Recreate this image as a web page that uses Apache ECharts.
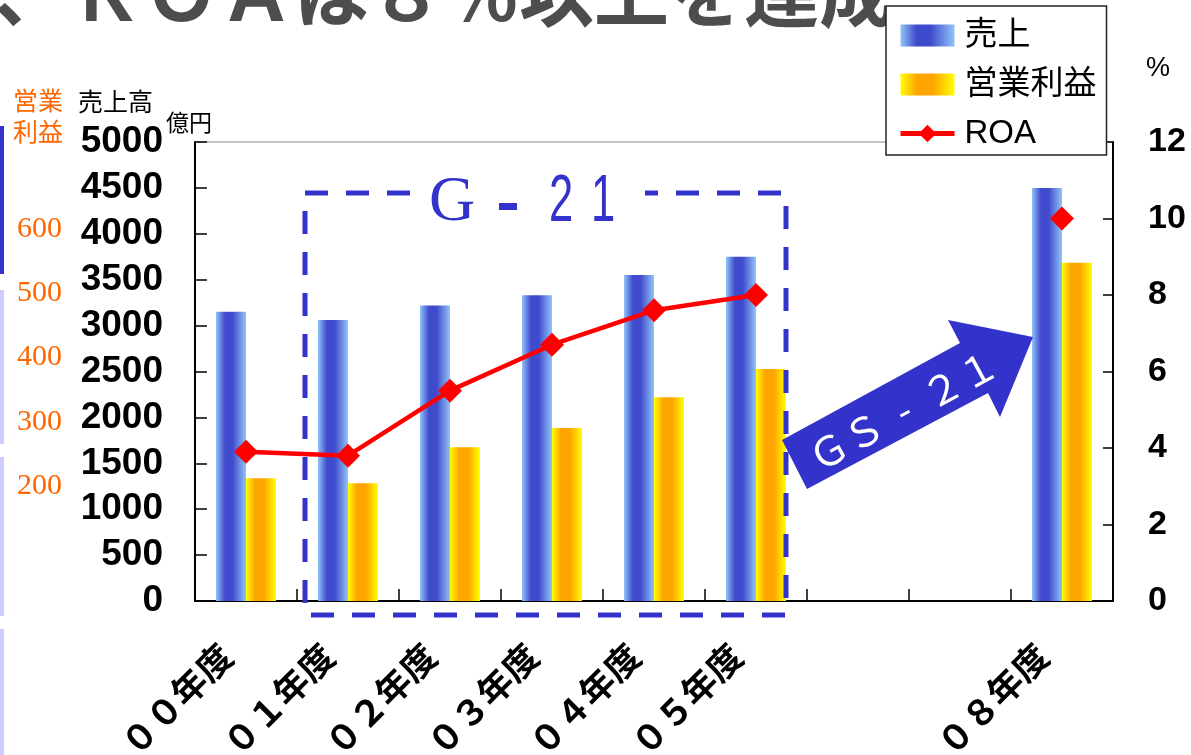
<!DOCTYPE html>
<html>
<head>
<meta charset="utf-8">
<script src="https://cdn.jsdelivr.net/npm/echarts@6/dist/echarts.min.js"></script>
<style>
  html, body { margin: 0; padding: 0; background: #fff; }
  #chart { width: 1191px; height: 755px; }
</style>
</head>
<body>
<div id="chart"></div>
<script>
// Fiscal years (06 and 07 have no figures)
const categories = ['００年度', '０１年度', '０２年度', '０３年度', '０４年度', '０５年度', '０６年度', '０７年度', '０８年度'];
// Net sales, 億円
const sales = [3150, 3060, 3220, 3330, 3550, 3750, null, null, 4500];
// Operating profit, 億円
const operatingProfit = [212, 204, 260, 290, 338, 382, null, null, 547];
// ROA, %
const roa = [3.9, 3.8, 5.5, 6.7, 7.6, 8.0, null, null, 10.0];
// Labels shown on the operating-profit scale
const profitTicks = [200, 300, 400, 500, 600];

const JP = "'Noto Sans CJK JP', sans-serif";
const NUM = "'Liberation Sans', Arial, sans-serif";
const ORANGE = '#ff6600';
const PLAN_BLUE = '#3333cc';

const salesFill = new echarts.graphic.LinearGradient(0, 0, 1, 0, [
  { offset: 0, color: '#90c4f8' },
  { offset: 0.3, color: '#3f4acc' },
  { offset: 0.55, color: '#3f4acc' },
  { offset: 1, color: '#90c4f8' }
]);
const profitFill = new echarts.graphic.LinearGradient(0, 0, 1, 0, [
  { offset: 0, color: '#ffff00' },
  { offset: 0.3, color: '#ffa500' },
  { offset: 0.6, color: '#ffa500' },
  { offset: 1, color: '#ffff00' }
]);

const chart = echarts.init(document.getElementById('chart'), null, { renderer: 'canvas' });

const dash = [23, 18];

chart.setOption({
  animation: false,
  backgroundColor: '#fff',
  grid: {
    left: 195, right: 78, top: 142, bottom: 154,
    show: true, borderColor: '#8a8a8a', borderWidth: 1,
    containLabel: false,
    outerBoundsMode: 'none'
  },
  legend: {
    orient: 'vertical',
    left: 886, top: 6,
    padding: [13, 10, 5, 12],
    itemGap: 16,
    itemWidth: 54, itemHeight: 22,
    backgroundColor: '#fff',
    borderColor: '#222', borderWidth: 1.5,
    selectedMode: false,
    textStyle: { fontSize: 33, lineHeight: 32, color: '#000', fontFamily: "'Liberation Sans', 'Noto Sans CJK JP', sans-serif", padding: [0, 0, 0, 5] },
    data: [
      { name: '売上', icon: 'rect' },
      { name: '営業利益', icon: 'rect' },
      { name: 'ROA', lineStyle: { width: 5 } }
    ]
  },
  xAxis: {
    type: 'category',
    data: categories,
    boundaryGap: true,
    axisLine: { lineStyle: { color: '#000', width: 2 } },
    axisTick: { show: true, inside: true, length: 12, lineStyle: { color: '#000', width: 1.5 } },
    axisLabel: {
      interval: 0,
      rotate: 45,
      margin: 29,
      padding: [0, 28, 0, 0],
      fontSize: 35,
      fontWeight: 'bold',
      fontFamily: JP,
      color: '#000',
      formatter: (v, i) => (sales[i] == null ? '' : v)
    },
    splitLine: { show: false }
  },
  yAxis: [
    {
      type: 'value', min: 0, max: 5000, interval: 500,
      position: 'left',
      axisLine: { show: true, lineStyle: { color: '#000', width: 2 } },
      axisTick: { show: true, inside: true, length: 12, lineStyle: { color: '#000', width: 1.5 } },
      axisLabel: { margin: 32, fontSize: 37, fontWeight: 'bold', fontFamily: NUM, color: '#000', formatter: v => String(v) },
      splitLine: { show: false }
    },
    {
      type: 'value', min: 0, max: 12, interval: 2,
      position: 'right',
      axisLine: { show: true, lineStyle: { color: '#000', width: 2 } },
      axisTick: { show: true, inside: true, length: 10, lineStyle: { color: '#000', width: 1.5 } },
      axisLabel: { margin: 35, fontSize: 34, fontWeight: 'bold', fontFamily: NUM, color: '#000' },
      splitLine: { show: false }
    },
    {
      // operating-profit scale, its zero sits just below the baseline
      type: 'value', min: 21, max: 735,
      position: 'left', offset: 125,
      axisLine: { show: false },
      axisTick: { show: false },
      axisLabel: { customValues: profitTicks, margin: 8, fontSize: 30, fontFamily: "'Liberation Serif', 'Times New Roman', serif", color: ORANGE },
      splitLine: { show: false }
    }
  ],
  series: [
    {
      name: '売上', type: 'bar', yAxisIndex: 0,
      data: sales, barWidth: 30, barGap: '0%',
      itemStyle: { color: salesFill }, clip: true
    },
    {
      name: '営業利益', type: 'bar', yAxisIndex: 2,
      data: operatingProfit, barWidth: 30,
      itemStyle: { color: profitFill }, clip: true
    },
    {
      name: 'ROA', type: 'line', yAxisIndex: 1,
      data: roa, connectNulls: false,
      symbol: 'diamond', symbolSize: 24, showSymbol: true,
      lineStyle: { color: '#ff0000', width: 4.5 },
      itemStyle: { color: '#ff0000' },
      z: 5
    }
  ],
  graphic: [
    // headline (runs under the legend box)
    { type: 'text', x: -6, y: -8, z: 0, style: { text: '、ＲＯＡは８％以上を達成', font: 'bold 75px ' + JP, fill: '#4d4d4d', align: 'left', verticalAlign: 'middle' } },
    // slide edge stripes
    { type: 'rect', shape: { x: 0, y: 126, width: 4, height: 148 }, style: { fill: PLAN_BLUE } },
    { type: 'rect', shape: { x: 0, y: 290, width: 4, height: 154 }, style: { fill: '#ccccff' } },
    { type: 'rect', shape: { x: 0, y: 457, width: 4, height: 159 }, style: { fill: '#ccccff' } },
    { type: 'rect', shape: { x: 0, y: 629, width: 4, height: 126 }, style: { fill: '#ccccff' } },
    // axis headings
    { type: 'text', x: 13, y: 100, style: { text: '営業', font: '25px ' + JP, fill: ORANGE, align: 'left', verticalAlign: 'middle' } },
    { type: 'text', x: 13, y: 131, style: { text: '利益', font: '25px ' + JP, fill: ORANGE, align: 'left', verticalAlign: 'middle' } },
    { type: 'text', x: 78, y: 101, style: { text: '売上高', font: '25px ' + JP, fill: '#000', align: 'left', verticalAlign: 'middle' } },
    { type: 'text', x: 166, y: 122, style: { text: '億円', font: '23px ' + JP, fill: '#000', align: 'left', verticalAlign: 'middle' } },
    { type: 'text', x: 1158, y: 69, style: { text: '%', font: '27px ' + NUM, fill: '#000', align: 'center', verticalAlign: 'middle' } },
    // G-21 plan period frame
    {
      type: 'polyline', z: 20,
      shape: { points: [[410, 193], [305, 193], [305, 615], [786, 615], [786, 193], [645, 193]] },
      style: { stroke: PLAN_BLUE, lineWidth: 5, lineDash: dash, fill: null }
    },
    { type: 'text', z: 20, x: 452, y: 203, style: { text: 'G', font: '64px "Liberation Serif", serif', fill: PLAN_BLUE, align: 'center', verticalAlign: 'middle' } },
    { type: 'rect', z: 20, shape: { x: 499, y: 203, width: 18, height: 7 }, style: { fill: PLAN_BLUE } },
    { type: 'text', z: 20, x: 561, y: 203, scaleX: 0.66, style: { text: '2', font: '66px ' + NUM, fill: PLAN_BLUE, align: 'center', verticalAlign: 'middle' } },
    { type: 'text', z: 20, x: 603, y: 203, scaleX: 0.66, style: { text: '1', font: '66px ' + NUM, fill: PLAN_BLUE, align: 'center', verticalAlign: 'middle' } },
    // GS-21 arrow
    {
      type: 'polygon', z: 21,
      shape: { points: [[807, 489], [782, 440], [960, 343], [948, 320], [1033, 337], [1000, 417], [988, 393]] },
      style: { fill: PLAN_BLUE }
    },
    {
      type: 'text', z: 22, x: 903, y: 410, rotation: 28.5 * Math.PI / 180,
      style: { text: 'ＧＳ  -  ２１', font: '40px ' + JP, fill: '#fff', align: 'center', verticalAlign: 'middle' }
    }
  ]
});
</script>
</body>
</html>
